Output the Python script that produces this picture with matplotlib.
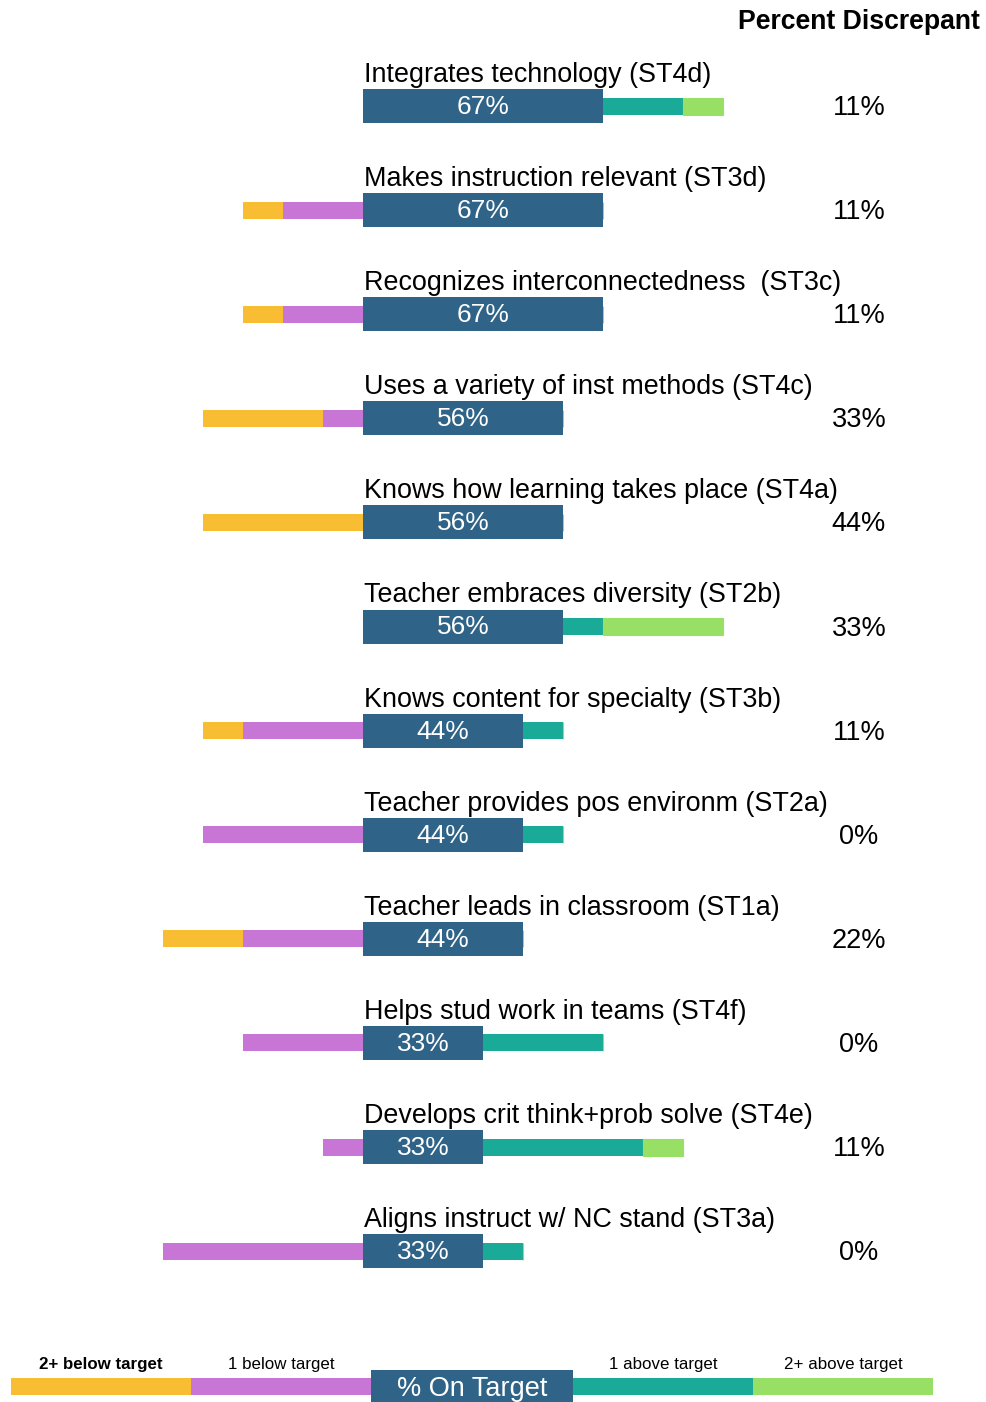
import matplotlib.pyplot as plt
import numpy as np

# data (percent of raters), top row first
labels = ['Integrates technology (ST4d)', 'Makes instruction relevant (ST3d)',
          'Recognizes interconnectedness  (ST3c)', 'Uses a variety of inst methods (ST4c)',
          'Knows how learning takes place (ST4a)', 'Teacher embraces diversity (ST2b)',
          'Knows content for specialty (ST3b)', 'Teacher provides pos environm (ST2a)',
          'Teacher leads in classroom (ST1a)', 'Helps stud work in teams (ST4f)',
          'Develops crit think+prob solve (ST4e)', 'Aligns instruct w/ NC stand (ST3a)']
below2 = [0, 11.1, 11.1, 33.3, 44.4, 0, 11.1, 0, 22.2, 0, 0, 0]
below1 = [0, 22.2, 22.2, 11.1, 0, 0, 33.3, 44.4, 33.3, 33.3, 11.1, 55.6]
on_target = [66.7, 66.7, 66.7, 55.6, 55.6, 55.6, 44.4, 44.4, 44.4, 33.3, 33.3, 33.3]
above1 = [22.2, 0, 0, 0, 0, 11.1, 11.1, 11.1, 0, 33.3, 44.4, 11.1]
above2 = [11.1, 0, 0, 0, 0, 33.3, 0, 0, 0, 0, 11.1, 0]
discrepant = ['11%', '11%', '11%', '33%', '44%', '33%', '11%', '0%', '22%', '0%', '11%', '0%']

legend_labels = ['2+ below target', '1 below target', '% On Target', '1 above target', '2+ above target']

c_below2 = '#f8bd33'
c_below1 = '#c876d6'
c_on = '#2f6387'
c_above1 = '#1aaa98'
c_above2 = '#97e065'

fig = plt.figure(figsize=(9.87, 14.02), dpi=100)
ax = fig.add_axes([0, 0, 1, 1])
ax.set_xlim(-363 / 3.6, (987 - 363) / 3.6)
ax.set_ylim((1402 - 106) / 104.1, -106 / 104.1)
ax.axis('off')

font = ['Liberation Sans', 'DejaVu Sans']
narrow = ['Liberation Sans Narrow', 'Liberation Sans', 'DejaVu Sans']

y = np.arange(len(labels))
b2 = np.array(below2)
b1 = np.array(below1)
on = np.array(on_target)
a1 = np.array(above1)
a2 = np.array(above2)

small_h = 17 / 104.1
big_h = 34 / 104.1

ax.barh(y, -b1, height=small_h, color=c_below1, lw=0)
ax.barh(y, -b2, left=-b1, height=small_h, color=c_below2, lw=0)
ax.barh(y, a1, left=on, height=small_h, color=c_above1, lw=0)
ax.barh(y, a2, left=on + a1, height=small_h, color=c_above2, edgecolor=c_above2, lw=0.8)
ax.barh(y, on, height=big_h, color=c_on, lw=0)

for i in y:
    ax.text(0.3, i - 24 / 104.1, labels[i], ha='left', va='baseline',
            fontsize=19.4, family=font, color='black')
    ax.text(on[i] / 2, i + 8 / 104.1, f'{on[i]:.0f}%', ha='center', va='baseline',
            fontsize=19, family=font, color='white')
    ax.text((859 - 363) / 3.6, i + 9 / 104.1, discrepant[i], ha='center', va='baseline',
            fontsize=19.5, family=font, color='black')

ax.text((859 - 363) / 3.6, -1 + 27 / 104.1, 'Percent Discrepant', ha='center',
        va='baseline', fontsize=19.2, fontweight='bold', family=font, color='black')

# legend strip at the bottom
leg_w = [50, 50, 56.1, 50, 50]
leg_c = [c_below2, c_below1, c_on, c_above1, c_above2]
leg_y = (1386.5 - 106) / 104.1
left = (11 - 363) / 3.6
for k, (w, c, t) in enumerate(zip(leg_w, leg_c, legend_labels)):
    h = big_h if k == 2 else small_h
    ax.barh(leg_y, w, left=left, height=h, color=c, lw=0)
    if k == 2:
        ax.text(left + w / 2, leg_y + 9 / 104.1, t, ha='center', va='baseline',
                fontsize=19.5, family=narrow, color='white')
    else:
        ax.text(left + w / 2, (1369 - 106) / 104.1, t, ha='center', va='baseline',
                fontsize=12.2, family=narrow, color='black',
                fontweight='bold' if k == 0 else 'normal')
    left += w

fig.savefig('out.png', dpi=100)
